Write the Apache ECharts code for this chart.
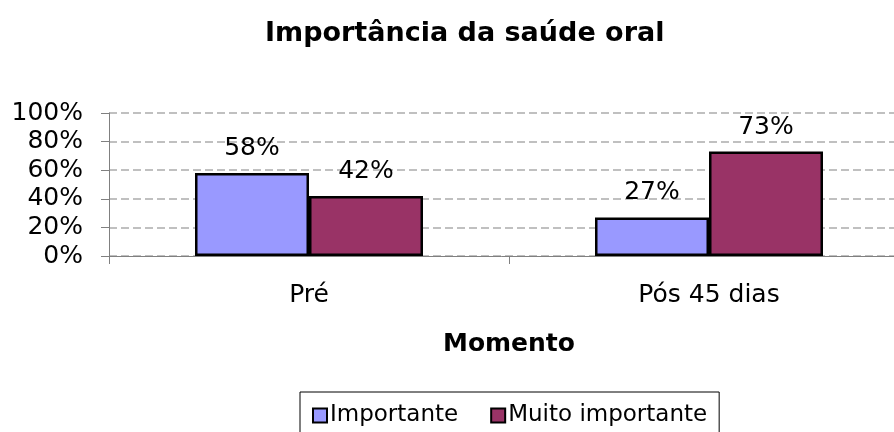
<!DOCTYPE html>
<html lang="pt">
<head>
  <meta charset="UTF-8">
  <title>Importância da saúde oral</title>
  <script src="https://cdn.jsdelivr.net/npm/echarts@6/dist/echarts.min.js"></script>
  <style>
    html, body { margin: 0; padding: 0; background: #fff; }
    .chart { width: 894px; height: 432px; }
  </style>
</head>
<body>
  <div class="chart"></div>
  <script>
    // dados
    var momentos = ['Pré', 'Pós 45 dias'];
    var importante = [58, 27];
    var muitoImportante = [42, 73];
    var yTicks = [0, 20, 40, 60, 80, 100];

    var fonte = '"DejaVu Sans", Verdana, sans-serif';
    var chart = echarts.init(document.querySelector('.chart'));

    var labelCfg = {
      show: true,
      position: 'top',
      distance: 12,
      formatter: '{c}%',
      color: '#000',
      fontFamily: fonte,
      fontSize: 25
    };

    chart.setOption({
      animation: false,
      backgroundColor: '#fff',
      title: {
        text: 'Importância da saúde oral',
        left: 260,
        top: 15,
        textStyle: { fontFamily: fonte, fontSize: 27, fontWeight: 'bold', color: '#000' }
      },
      grid: { left: 109, top: 113, width: 800, height: 143, outerBoundsMode: 'none', containLabel: false },
      legend: {
        top: 392,
        left: 300,
        padding: [12, 12, 30, 12],
        borderColor: '#000',
        borderWidth: 1,
        itemWidth: 14,
        itemHeight: 14,
        itemGap: 32,
        icon: 'rect',
        itemStyle: { borderColor: '#000', borderWidth: 2 },
        textStyle: { fontFamily: fonte, fontSize: 23, color: '#000', padding: [0, 0, 0, -2] },
        data: ['Importante', 'Muito importante']
      },
      xAxis: {
        type: 'category',
        data: momentos,
        name: 'Momento',
        nameLocation: 'middle',
        nameGap: 76,
        nameTextStyle: { fontFamily: fonte, fontSize: 25, fontWeight: 'bold', color: '#000' },
        axisLine: { lineStyle: { color: '#808080', width: 1 } },
        axisTick: { show: true, length: 8, lineStyle: { color: '#808080' } },
        axisLabel: { margin: 27, fontFamily: fonte, fontSize: 25, color: '#000' }
      },
      yAxis: {
        type: 'value',
        min: yTicks[0],
        max: yTicks[yTicks.length - 1],
        interval: 20,
        axisLine: { show: true, lineStyle: { color: '#808080', width: 1 } },
        axisTick: { show: true, length: 8, lineStyle: { color: '#808080' } },
        splitLine: { lineStyle: { color: '#c0c0c0', type: [8, 4], width: 2 } },
        axisLabel: { margin: 26, fontFamily: fonte, fontSize: 25, color: '#000', formatter: '{value}%' }
      },
      series: [
        {
          name: 'Importante',
          type: 'bar',
          data: importante,
          barWidth: 114,
          barGap: '0%',
          itemStyle: { color: '#9999ff', borderColor: '#000', borderWidth: 2.5 },
          label: labelCfg
        },
        {
          name: 'Muito importante',
          type: 'bar',
          data: muitoImportante,
          barWidth: 114,
          barGap: '0%',
          itemStyle: { color: '#993366', borderColor: '#000', borderWidth: 2.5 },
          label: labelCfg
        }
      ]
    });
  </script>
</body>
</html>
